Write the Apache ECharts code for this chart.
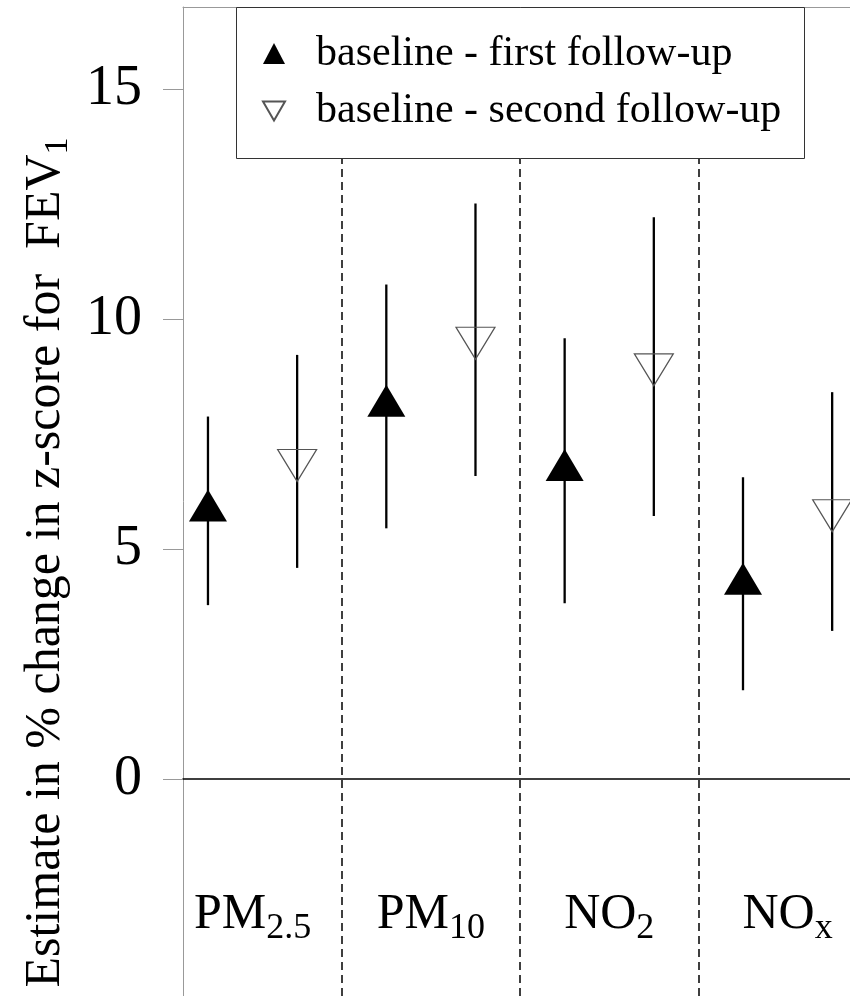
<!DOCTYPE html>
<html>
<head>
<meta charset="utf-8">
<script src="https://cdn.jsdelivr.net/npm/echarts@6/dist/echarts.min.js"></script>
<style>
html,body{margin:0;padding:0;background:#fff;}
#chart{width:850px;height:996px;}
</style>
</head>
<body>
<div id="chart"></div>
<script>
// ---- data ----
var categories = ['PM2.5', 'PM10', 'NO2', 'NOx'];
var categoryMain = ['PM', 'PM', 'NO', 'NO'];
var categorySub = ['2.5', '10', '2', 'x'];
var seriesNames = ['baseline - first follow-up', 'baseline - second follow-up'];
var firstEst = [5.83, 8.11, 6.71, 4.24];
var firstLow = [3.78, 5.45, 3.82, 1.93];
var firstHigh = [7.88, 10.75, 9.58, 6.56];
var secondEst = [6.93, 9.59, 9.01, 5.84];
var secondLow = [4.59, 6.59, 5.72, 3.22];
var secondHigh = [9.22, 12.51, 12.21, 8.41];
var yTicks = [0, 5, 10, 15];
var groupPositions = [1, 2, 3, 4];
var separators = [1.5, 2.5, 3.5];

var FONT = "'Liberation Serif', 'Times New Roman', serif";
var OFF = 0.25;
var XMIN = 0.61, XMAX = 4.35;

function pts(est, shift) {
  return est.map(function (v, i) { return [groupPositions[i] + shift, v]; });
}
function bars(lo, hi, shift) {
  return lo.map(function (v, i) { return [groupPositions[i] + shift, v, hi[i]]; });
}
var errData = bars(firstLow, firstHigh, -OFF).concat(bars(secondLow, secondHigh, OFF));

var chart = echarts.init(document.getElementById('chart'), null, {renderer: 'canvas'});
var downTri = 'path://M0,0L20,0L10,17.32Z';

var option = {
  animation: false,
  backgroundColor: '#fff',
  textStyle: {fontFamily: FONT},
  grid: {left: 183, right: 0, top: 7, bottom: 0, containLabel: false, outerBoundsMode: 'none'},
  xAxis: [{
    // zero line
    type: 'value', min: XMIN, max: XMAX,
    axisLine: {show: true, onZero: true, lineStyle: {color: '#000', width: 1.5}},
    axisTick: {show: false}, axisLabel: {show: false}, splitLine: {show: false}
  }, {
    // top frame line
    type: 'value', position: 'top', min: XMIN, max: XMAX,
    axisLine: {show: true, onZero: false, lineStyle: {color: '#999', width: 1}},
    axisTick: {show: false}, axisLabel: {show: false}, splitLine: {show: false}
  }, {
    // category labels
    type: 'value', position: 'bottom', min: XMIN, max: XMAX,
    axisLine: {show: false, onZero: false},
    axisTick: {show: false}, splitLine: {show: false},
    axisLabel: {
      show: true, customValues: groupPositions, margin: -106,
      formatter: function (v) {
        var i = groupPositions.indexOf(Math.round(v));
        if (i < 0) return '';
        return '{a|' + categoryMain[i] + '}{s|' + categorySub[i] + '}';
      },
      rich: {
        a: {fontSize: 50, fontFamily: FONT, color: '#000', lineHeight: 50},
        s: {fontSize: 36, fontFamily: FONT, color: '#000', lineHeight: 36, padding: [28, 0, 0, 0]}
      }
    }
  }],
  yAxis: {
    type: 'value', min: -4.717, max: 16.783,
    axisLine: {show: true, onZero: false, lineStyle: {color: '#999', width: 1}},
    axisTick: {show: true, length: 20, customValues: yTicks, lineStyle: {color: '#999', width: 1}},
    splitLine: {show: false},
    axisLabel: {customValues: yTicks, fontSize: 56, fontFamily: FONT, color: '#000', margin: 41},
    name: '{a|Estimate in % change in z-score for  FEV}{s|1}',
    nameLocation: 'middle', nameGap: 106, nameRotate: 90,
    nameTextStyle: {
      padding: [0, 122, 0, 0],
      rich: {
        a: {fontSize: 50, fontFamily: FONT, color: '#000', lineHeight: 50},
        s: {fontSize: 34, fontFamily: FONT, color: '#000', lineHeight: 34, padding: [24, 0, 0, 0]}
      }
    }
  },
  legend: {
    orient: 'vertical', left: 262, top: 26, padding: 0,
    itemWidth: 22, itemHeight: 21, itemGap: 3, z: 60,
    textStyle: {fontSize: 42, fontFamily: FONT, color: '#000', lineHeight: 48},
    data: [
      {name: seriesNames[0], icon: 'triangle',
       textStyle: {padding: [7, 0, 0, 26]}},
      {name: seriesNames[1], icon: downTri,
       textStyle: {padding: [0, 0, 6, 26]}}
    ]
  },
  graphic: [{
    type: 'rect', z: 50, silent: true,
    shape: {x: 236.5, y: 7.5, width: 568, height: 151},
    style: {fill: '#fff', stroke: '#333', lineWidth: 1}
  }],
  series: [{
    type: 'custom', name: 'ci', z: 2,
    renderItem: function (params, api) {
      var p1 = api.coord([api.value(0), api.value(1)]);
      var p2 = api.coord([api.value(0), api.value(2)]);
      return {type: 'line', shape: {x1: p1[0], y1: p1[1], x2: p2[0], y2: p2[1]},
        style: {stroke: '#000', lineWidth: 2.3}};
    },
    encode: {x: 0, y: [1, 2]},
    data: errData,
    markLine: {
      silent: true, symbol: 'none', label: {show: false},
      lineStyle: {color: '#000', type: [8, 5], width: 1.5},
      data: separators.map(function (s) { return {xAxis: s}; })
    }
  }, {
    type: 'scatter', name: seriesNames[0], z: 3,
    symbol: 'triangle', symbolSize: [38, 32], symbolOffset: [0, -5.3],
    itemStyle: {color: '#000', opacity: 1},
    data: pts(firstEst, -OFF)
  }, {
    type: 'scatter', name: seriesNames[1], z: 3,
    symbol: downTri, symbolSize: [39, 32], symbolOffset: [0, 5.3],
    itemStyle: {color: 'rgba(255,255,255,0)', borderColor: '#555', borderWidth: 1.2, opacity: 1},
    data: pts(secondEst, OFF)
  }]
};
chart.setOption(option);
</script>
</body>
</html>
